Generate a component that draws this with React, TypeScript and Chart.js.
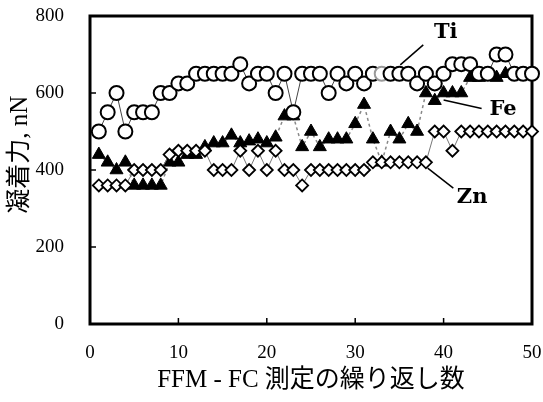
import { useEffect, useRef } from 'react';
import { Chart, registerables } from 'chart.js';

Chart.register(...registerables);

// ---- data ----
const runs = [
  1, 2, 3, 4, 5, 6, 7, 8, 9, 10,
  11, 12, 13, 14, 15, 16, 17, 18, 19, 20,
  21, 22, 23, 24, 25, 26, 27, 28, 29, 30,
  31, 32, 33, 34, 35, 36, 37, 38, 39, 40,
  41, 42, 43, 44, 45, 46, 47, 48, 49, 50,
];
const tiValues = [
  500, 550, 600, 500, 550, 550, 550, 600, 600, 625,
  625, 650, 650, 650, 650, 650, 675, 625, 650, 650,
  600, 650, 550, 650, 650, 650, 600, 650, 625, 650,
  625, 650, 650, 650, 650, 650, 625, 650, 625, 650,
  675, 675, 675, 650, 650, 700, 700, 650, 650, 650,
];
const feValues = [
  440, 420, 400, 420, 360, 360, 360, 360, 420, 420,
  440, 440, 460, 470, 470, 490, 470, 475, 480, 470,
  485, 540, 540, 460, 500, 460, 480, 480, 480, 520,
  570, 480, 420, 500, 480, 520, 500, 600, 580, 600,
  600, 600, 640, 640, 650, 640, 650, 650, 650, 650,
];
const znValues = [
  360, 360, 360, 360, 400, 400, 400, 400, 440, 450,
  450, 450, 450, 400, 400, 400, 450, 400, 450, 400,
  450, 400, 400, 360, 400, 400, 400, 400, 400, 400,
  400, 420, 420, 420, 420, 420, 420, 420, 500, 500,
  450, 500, 500, 500, 500, 500, 500, 500, 500, 500,
];
const seriesNames = ['Ti', 'Fe', 'Zn'];
const xTickValues = [0, 10, 20, 30, 40, 50];
const yTickValues = [0, 200, 400, 600, 800];
const xTitle = 'FFM - FC 測定の繰り返し数';
const yTitle = '凝着力, nN';

// label callouts, anchored in data coordinates
const callouts = [
  { name: 'Ti', text: [38.9, 758], from: [37.7, 725], to: [35.1, 673] },
  { name: 'Fe', text: [45.2, 558], from: [44.3, 560], to: [40.0, 582] },
  { name: 'Zn', text: [41.5, 328], from: [41.1, 353], to: [38.2, 405] },
];

const SERIF = '"Liberation Serif", "Noto Sans CJK JP", serif';

const framePlugin = {
  id: 'frameTicks',
  beforeDatasetsDraw(chart: any) {
    const { ctx, chartArea: a, scales } = chart;
    ctx.save();
    ctx.strokeStyle = '#000';
    ctx.lineWidth = 1.5;
    ctx.beginPath();
    xTickValues.forEach((v) => {
      const px = scales.x.getPixelForValue(v);
      ctx.moveTo(px, a.bottom);
      ctx.lineTo(px, a.bottom - 6);
    });
    yTickValues.forEach((v) => {
      const py = scales.y.getPixelForValue(v);
      ctx.moveTo(a.left, py);
      ctx.lineTo(a.left + 6, py);
    });
    ctx.stroke();
    ctx.lineWidth = 3;
    ctx.strokeRect(a.left, a.top, a.right - a.left, a.bottom - a.top);
    ctx.restore();
  },
  afterDraw(chart: any) {
    const { ctx, chartArea: a, scales } = chart;
    const X = (v: number) => scales.x.getPixelForValue(v);
    const Y = (v: number) => scales.y.getPixelForValue(v);
    ctx.save();
    ctx.strokeStyle = '#000';
    ctx.lineWidth = 1.5;
    ctx.fillStyle = '#000';
    ctx.font = 'bold 21px "DejaVu Serif", serif';
    ctx.textAlign = 'left';
    ctx.textBaseline = 'middle';
    callouts.forEach((c) => {
      ctx.beginPath();
      ctx.moveTo(X(c.from[0]), Y(c.from[1]));
      ctx.lineTo(X(c.to[0]), Y(c.to[1]));
      ctx.stroke();
      ctx.fillText(c.name, X(c.text[0]), Y(c.text[1]));
    });
    // axis titles
    ctx.font = '25px ' + SERIF;
    ctx.textAlign = 'center';
    ctx.fillText(xTitle, (a.left + a.right) / 2, 380);
    ctx.translate(20, a.top + (a.bottom - a.top) * 0.45);
    ctx.rotate(-Math.PI / 2);
    ctx.fillText(yTitle, 0, 0);
    ctx.restore();
  },
};

const noPad = (s: any) => {
  s.paddingLeft = 0;
  s.paddingRight = 0;
  s.paddingTop = 0;
  s.paddingBottom = 0;
};

export default function App() {
  const ref = useRef<HTMLCanvasElement | null>(null);

  useEffect(() => {
    const canvas = ref.current;
    if (!canvas) return;
    const mk = (vals: number[]) => vals.map((v, i) => ({ x: runs[i], y: v }));
    const tiBorders = tiValues.map((_, i) => (i === 32 ? '#9a9a9a' : '#000'));
    const chart = new Chart(canvas, {
      type: 'line',
      data: {
        datasets: [
          {
            label: seriesNames[0],
            data: mk(tiValues),
            borderColor: '#444',
            borderWidth: 1,
            pointStyle: 'circle',
            pointRadius: 7,
            pointBorderWidth: 2,
            pointBackgroundColor: '#fff',
            pointBorderColor: tiBorders,
            clip: false,
            order: 1,
          },
          {
            label: seriesNames[2],
            data: mk(znValues),
            borderColor: '#777',
            borderWidth: 1,
            pointStyle: 'rectRot',
            pointRadius: 6,
            pointBorderWidth: 1.8,
            pointBackgroundColor: '#fff',
            pointBorderColor: '#000',
            clip: false,
            order: 2,
          },
          {
            label: seriesNames[1],
            data: mk(feValues),
            borderColor: '#888',
            borderWidth: 1.5,
            borderDash: [3, 3],
            pointStyle: 'triangle',
            pointRadius: 7.5,
            pointBorderWidth: 1,
            pointBackgroundColor: '#000',
            pointBorderColor: '#000',
            clip: false,
            order: 3,
          },
        ] as any,
      },
      options: {
        animation: false,
        responsive: false,
        maintainAspectRatio: false,
        devicePixelRatio: 1,
        layout: { padding: { top: 16, right: 11, left: 0, bottom: 0 } },
        plugins: { legend: { display: false }, tooltip: { enabled: false } },
        elements: { line: { tension: 0 } },
        scales: {
          x: {
            type: 'linear',
            min: 0,
            max: 50,
            afterBuildTicks: (s: any) => {
              s.ticks = xTickValues.map((v) => ({ value: v }));
            },
            afterFit: (s: any) => {
              s.height = 78;
              noPad(s);
            },
            ticks: {
              color: '#000',
              font: { family: SERIF, size: 19 },
              padding: 10,
              maxRotation: 0,
            },
            grid: { display: false },
            border: { display: false },
          },
          y: {
            type: 'linear',
            min: 0,
            max: 800,
            afterBuildTicks: (s: any) => {
              s.ticks = yTickValues.map((v) => ({ value: v }));
            },
            afterFit: (s: any) => {
              s.width = 90;
              noPad(s);
            },
            ticks: {
              color: '#000',
              font: { family: SERIF, size: 19 },
              padding: 18,
            },
            grid: { display: false },
            border: { display: false },
          },
        },
      } as any,
      plugins: [framePlugin],
    });
    return () => chart.destroy();
  }, []);

  return (
    <div style={{ position: 'absolute', left: 0, top: 0, width: 543, height: 402 }}>
      <canvas ref={ref} width={543} height={402} style={{ width: 543, height: 402, display: 'block' }} />
    </div>
  );
}
